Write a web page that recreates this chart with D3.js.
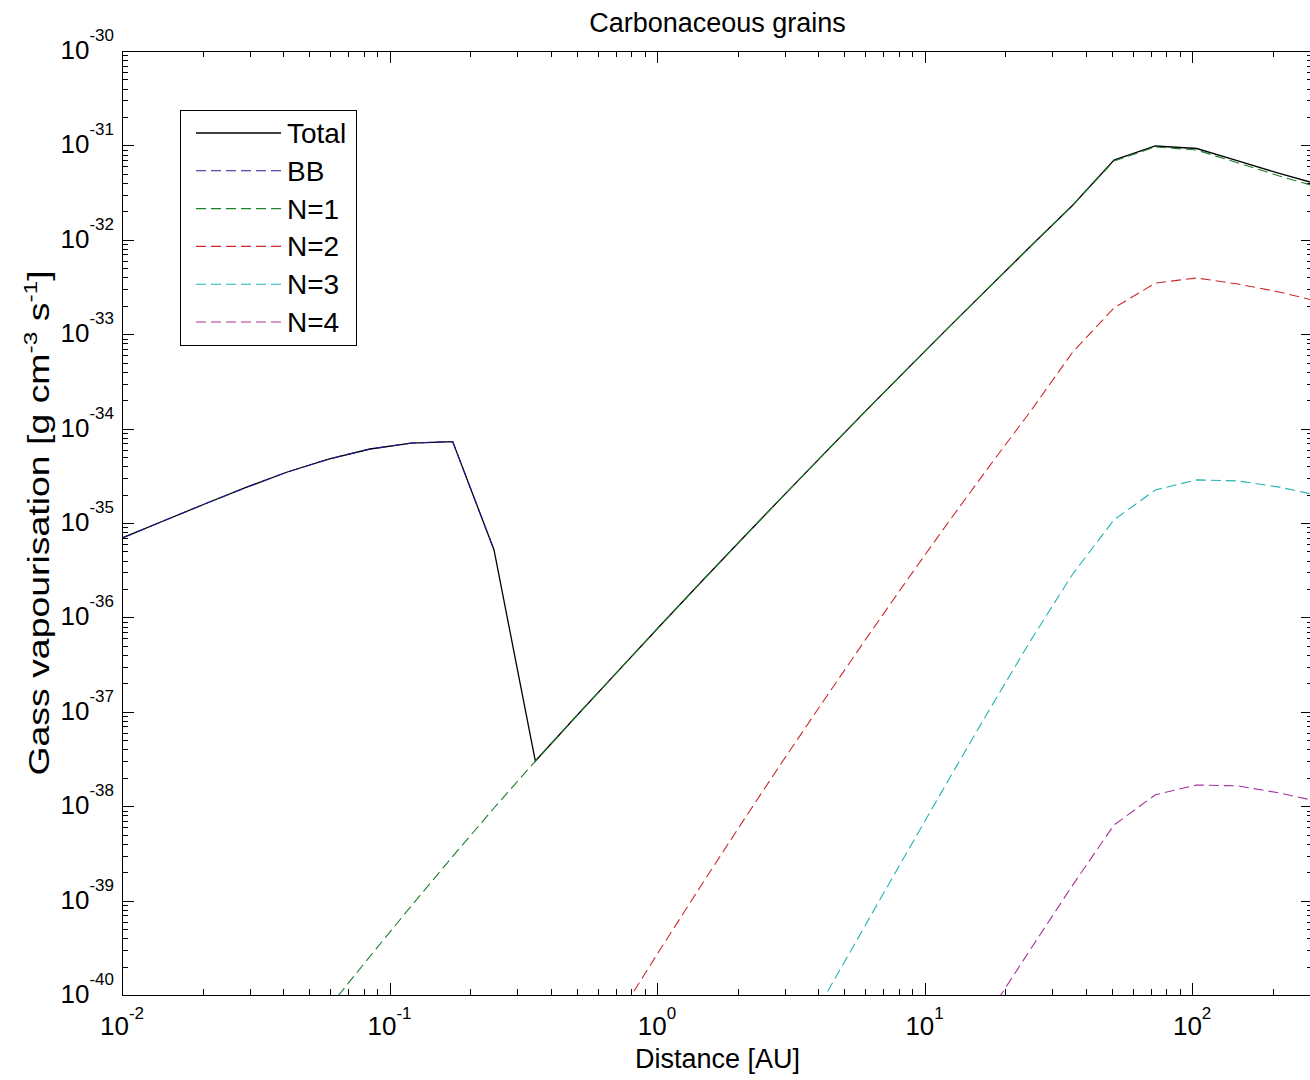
<!DOCTYPE html>
<html>
<head>
<meta charset="utf-8">
<script src="https://cdnjs.cloudflare.com/ajax/libs/d3/7.8.5/d3.min.js"></script>
<style>
  body { margin: 0; background: #fff; }
  svg { display: block; font-family: "Liberation Sans", Arial, sans-serif; }
</style>
</head>
<body>
<svg id="svg" width="1310" height="1080"></svg>
<script>
(function() {

// Distance grid [AU] shared by all curves
const distance = [0.0100, 0.01427, 0.02037, 0.02907, 0.04150, 0.05923, 0.08453, 0.1206,
  0.1722, 0.2458, 0.3508, 0.5006, 0.7145, 1.020, 1.455, 2.077, 2.965, 4.231, 6.039,
  8.619, 12.30, 17.56, 25.06, 35.77, 51.05, 72.86, 104.0, 148.4, 211.8, 302.3];

// Gas vaporisation rate [g cm^-3 s^-1], null = not drawn
const total = [6.93e-36, 1.05e-35, 1.59e-35, 2.38e-35, 3.47e-35, 4.76e-35, 6.08e-35, 7.03e-35,
  7.29e-35, 5.18e-36, 3.01e-38, 9.08e-38, 2.70e-37, 8.00e-37, 2.34e-36, 6.78e-36, 1.94e-35,
  5.50e-35, 1.55e-34, 4.29e-34, 1.18e-33, 3.21e-33, 8.69e-33, 2.32e-32, 7.00e-32, 9.86e-32,
  9.27e-32, 6.84e-32, 5.04e-32, 3.81e-32];
const bb = [6.93e-36, 1.05e-35, 1.59e-35, 2.38e-35, 3.47e-35, 4.76e-35, 6.08e-35, 7.03e-35,
  7.29e-35, 5.18e-36, null, null, null, null, null, null, null, null, null, null, null, null,
  null, null, null, null, null, null, null, null];
const n1 = [null, null, null, null, null, 7.36e-41, 2.57e-40, 8.79e-40, 2.94e-39, 9.57e-39,
  3.01e-38, 9.08e-38, 2.70e-37, 8.00e-37, 2.34e-36, 6.78e-36, 1.94e-35, 5.50e-35, 1.55e-34,
  4.29e-34, 1.18e-33, 3.21e-33, 8.69e-33, 2.32e-32, 6.84e-32, 9.62e-32, 8.93e-32, 6.51e-32,
  4.74e-32, 3.54e-32];
const n2 = [null, null, null, null, null, null, null, null, null, null, null, null,
  5.90e-41, 2.94e-40, 1.42e-39, 6.70e-39, 3.07e-38, 1.36e-37, 5.93e-37, 2.51e-36, 1.03e-35,
  4.08e-35, 1.57e-34, 6.47e-34, 1.90e-33, 3.48e-33, 3.94e-33, 3.40e-33, 2.80e-33, 2.19e-33];
const n3 = [null, null, null, null, null, null, null, null, null, null, null, null, null,
  null, null, null, 1.61e-41, 9.59e-41, 5.65e-40, 3.30e-39, 1.91e-38, 1.08e-37, 5.85e-37,
  2.88e-36, 1.08e-35, 2.24e-35, 2.86e-35, 2.79e-35, 2.40e-35, 1.93e-35];
const n4 = [null, null, null, null, null, null, null, null, null, null, null, null, null,
  null, null, null, null, null, null, null, null, 6.65e-41, 3.15e-40, 1.46e-39, 6.32e-39,
  1.32e-38, 1.68e-38, 1.64e-38, 1.38e-38, 1.11e-38];

const seriesNames = ['Total', 'BB', 'N=1', 'N=2', 'N=3', 'N=4'];
const seriesValues = [total, bb, n1, n2, n3, n4];
const seriesColors = ['#000000', '#1c1c9a', '#1f7f2a', '#cc2a2a', '#22b3b3', '#a8309c'];

// tick exponents
const xTickExp = [-2, -1, 0, 1, 2];
const yTickExp = [-30, -31, -32, -33, -34, -35, -36, -37, -38, -39, -40];

// Layout (axes box runs a little past the right edge, like the picture)
const left = 122, right = 1313, top = 51, bottom = 995;

const x = d3.scaleLog().domain([0.01, 283]).range([left, right]);
const y = d3.scaleLog().domain([1e-40, 1e-30]).range([bottom, top]);

const svg = d3.select('#svg');

svg.append('defs').append('clipPath').attr('id', 'plot-clip')
  .append('rect')
  .attr('x', left).attr('y', top)
  .attr('width', right - left).attr('height', bottom - top);

// 1..9 x 10^e inside a log domain
function logTicks(scale) {
  const dom = scale.domain();
  const lo = Math.floor(Math.log10(Math.min(dom[0], dom[1])));
  const hi = Math.ceil(Math.log10(Math.max(dom[0], dom[1])));
  const out = [];
  for (let e = lo; e <= hi; e++) {
    for (let m = 1; m <= 9; m++) {
      const v = m * Math.pow(10, e);
      if (v >= Math.min(dom[0], dom[1]) * 0.9999 && v <= Math.max(dom[0], dom[1]) * 1.0001) {
        out.push({v: v, major: m == 1});
      }
    }
  }
  return out;
}

// Ticks, inside the box on all four sides
const ticks = svg.append('g').attr('stroke', '#000').attr('stroke-width', 1);
logTicks(x).forEach(t => {
  const px = Math.round(x(t.v)) + 0.5;
  const len = t.major ? 12 : 6;
  ticks.append('line').attr('x1', px).attr('x2', px).attr('y1', bottom).attr('y2', bottom - len);
  ticks.append('line').attr('x1', px).attr('x2', px).attr('y1', top).attr('y2', top + len);
});
logTicks(y).forEach(t => {
  const py = Math.round(y(t.v)) + 0.5;
  const len = t.major ? 12 : 6;
  ticks.append('line').attr('x1', left).attr('x2', left + len).attr('y1', py).attr('y2', py);
  ticks.append('line').attr('x1', right).attr('x2', right - len).attr('y1', py).attr('y2', py);
});

// Curves
const line = d3.line()
  .defined(d => d[1] != null)
  .x(d => x(d[0]))
  .y(d => y(d[1]));

const curves = svg.append('g').attr('clip-path', 'url(#plot-clip)');
seriesValues.forEach((vals, i) => {
  curves.append('path')
    .datum(distance.map((dist, j) => [dist, vals[j]]))
    .attr('fill', 'none')
    .attr('stroke', seriesColors[i])
    .attr('stroke-width', i == 0 ? 1.3 : 1.1)
    .attr('stroke-dasharray', i == 0 ? null : '10,5')
    .attr('d', line);
});

// Axes box
svg.append('rect')
  .attr('x', left + 0.5).attr('y', top + 0.5)
  .attr('width', right - left).attr('height', bottom - top)
  .attr('fill', 'none').attr('stroke', '#000').attr('stroke-width', 1);

// Tick labels as 10^n
const xLabels = svg.append('g').attr('font-size', 26).attr('fill', '#000');
xTickExp.forEach(e => {
  const t = xLabels.append('text')
    .attr('x', x(Math.pow(10, e)))
    .attr('y', 1035)
    .attr('text-anchor', 'middle');
  t.append('tspan').text('10');
  t.append('tspan').attr('font-size', 17).attr('dy', -16).text(e);
});

const yLabels = svg.append('g').attr('font-size', 26).attr('fill', '#000');
yTickExp.forEach(e => {
  const t = yLabels.append('text')
    .attr('x', 114)
    .attr('y', y(Math.pow(10, e)) + 8)
    .attr('text-anchor', 'end');
  t.append('tspan').text('10');
  t.append('tspan').attr('font-size', 17).attr('dy', -18).text(e);
});

// Title and axis labels
svg.append('text')
  .attr('x', (left + right) / 2).attr('y', 32)
  .attr('text-anchor', 'middle').attr('font-size', 27)
  .text('Carbonaceous grains');

svg.append('text')
  .attr('x', (left + right) / 2).attr('y', 1068)
  .attr('text-anchor', 'middle').attr('font-size', 27)
  .text('Distance [AU]');

// y label is drawn stretched along its length, as in the picture
const ylab = svg.append('text')
  .attr('transform', 'translate(49,' + ((top + bottom) / 2) + ') scale(1,1.29) rotate(-90)')
  .attr('text-anchor', 'middle').attr('font-size', 29);
ylab.append('tspan').text('Gass vapourisation [g cm');
ylab.append('tspan').attr('font-size', 19).attr('dy', -12).text('-3');
ylab.append('tspan').attr('dy', 12).text(' s');
ylab.append('tspan').attr('font-size', 19).attr('dy', -12).text('-1');
ylab.append('tspan').attr('dy', 12).text(']');

// Legend
const legend = svg.append('g');
legend.append('rect')
  .attr('x', 180.5).attr('y', 110.5).attr('width', 176).attr('height', 235)
  .attr('fill', '#fff').attr('stroke', '#000').attr('stroke-width', 1);
seriesNames.forEach((name, i) => {
  const ly = 133 + i * 37.8;
  legend.append('line')
    .attr('x1', 196).attr('x2', 281).attr('y1', ly).attr('y2', ly)
    .attr('stroke', seriesColors[i])
    .attr('stroke-width', i == 0 ? 1.3 : 1.1)
    .attr('stroke-dasharray', i == 0 ? null : '10,5');
  legend.append('text')
    .attr('x', 287).attr('y', ly + 10)
    .attr('font-size', 28)
    .text(name);
});

})();
</script>
</body>
</html>
